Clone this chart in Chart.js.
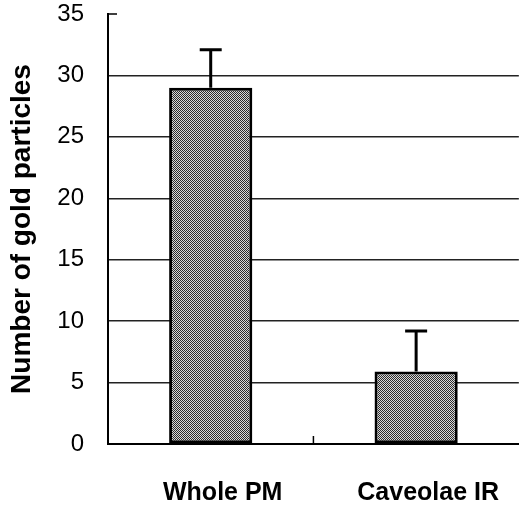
<!DOCTYPE html>
<html>
<head>
<meta charset="utf-8">
<script src="https://cdn.jsdelivr.net/npm/chart.js@4.4.0/dist/chart.umd.min.js"></script>
<style>
    html, body { margin: 0; padding: 0; background: #fff; }
    #wrap { width: 521px; height: 508px; }
</style>
</head>
<body>
<div id="wrap"><canvas id="chartGold"></canvas></div>
<script>
const categorias = ['Whole PM', 'Caveolae IR'];
const media = [29, 5.9];
const erro = [3.1, 3.3];
const yTicks = [0, 5, 10, 15, 20, 25, 30, 35];

// dithered gray fill
function criarPadrao() {
    const c = document.createElement('canvas');
    c.width = 2; c.height = 2;
    const g = c.getContext('2d');
    const cores = [['#2a2a2a', '#d8d8d8'], ['#d8d8d8', '#2a2a2a']];
    for (let y = 0; y < 2; y++) {
        for (let x = 0; x < 2; x++) {
            g.fillStyle = cores[y][x];
            g.fillRect(x, y, 1, 1);
        }
    }
    return g.createPattern(c, 'repeat');
}

const errorBars = {
    id: 'errorBars',
    afterDatasetsDraw(chart) {
        const ctx = chart.ctx;
        const xs = chart.scales.x, ys = chart.scales.y;
        ctx.save();
        ctx.strokeStyle = '#000';
        ctx.lineWidth = 3;
        media.forEach((v, i) => {
            const x = xs.getPixelForValue(i);
            const y0 = ys.getPixelForValue(v);
            const y1 = ys.getPixelForValue(v + erro[i]);
            ctx.beginPath();
            ctx.moveTo(x, y0);
            ctx.lineTo(x, y1);
            ctx.moveTo(x - 11, y1);
            ctx.lineTo(x + 11, y1);
            ctx.stroke();
        });
        // inner tick marks
        ctx.lineWidth = 1.5;
        const top = ys.getPixelForValue(35);
        ctx.beginPath();
        ctx.moveTo(chart.chartArea.left, top);
        ctx.lineTo(chart.chartArea.left + 9, top);
        const meio = (xs.getPixelForValue(0) + xs.getPixelForValue(1)) / 2;
        ctx.moveTo(meio, chart.chartArea.bottom);
        ctx.lineTo(meio, chart.chartArea.bottom - 8);
        ctx.stroke();
        ctx.restore();
    }
};

const ctxGold = document.getElementById('chartGold').getContext('2d');
const chartGold = new Chart(ctxGold, {
    type: 'bar',
    data: {
        labels: categorias,
        datasets: [{
            data: media,
            backgroundColor: criarPadrao(),
            borderColor: '#000',
            borderWidth: 3,
            borderSkipped: false,
            categoryPercentage: 1,
            barPercentage: 0.405
        }]
    },
    options: {
        responsive: true,
        maintainAspectRatio: false,
        animation: false,
        layout: { padding: { top: 14, right: -3, left: 0, bottom: 0 } },
        plugins: {
            legend: { display: false },
            tooltip: { enabled: false }
        },
        scales: {
            x: {
                afterFit: s => { s.height = 64; },
                grid: { display: false, drawTicks: false },
                border: { display: true, color: '#000', width: 2 },
                ticks: {
                    color: '#000',
                    padding: 34,
                    labelOffset: 12,
                    font: { family: 'Liberation Sans, Arial', size: 25, weight: 'bold' }
                }
            },
            y: {
                min: 0,
                max: 35,
                afterFit: s => {
                    s.width = 108;
                    s.paddingTop = 0;
                    s.paddingBottom = 0;
                },
                afterBuildTicks: s => { s.ticks = yTicks.map(v => ({ value: v })); },
                grid: {
                    drawTicks: false,
                    lineWidth: 1.5,
                    color: c => (c.tick && c.tick.value === 35) ? 'rgba(0,0,0,0)' : '#222'
                },
                border: { display: true, color: '#000', width: 2 },
                ticks: {
                    color: '#000',
                    padding: 24,
                    font: { family: 'Liberation Sans, Arial', size: 24 }
                },
                title: {
                    display: true,
                    text: 'Number of gold particles',
                    color: '#000',
                    padding: { top: 5, bottom: 0 },
                    font: { family: 'Liberation Sans, Arial', size: 28, weight: 'bold' }
                }
            }
        }
    },
    plugins: [errorBars]
});
</script>
</body>
</html>
